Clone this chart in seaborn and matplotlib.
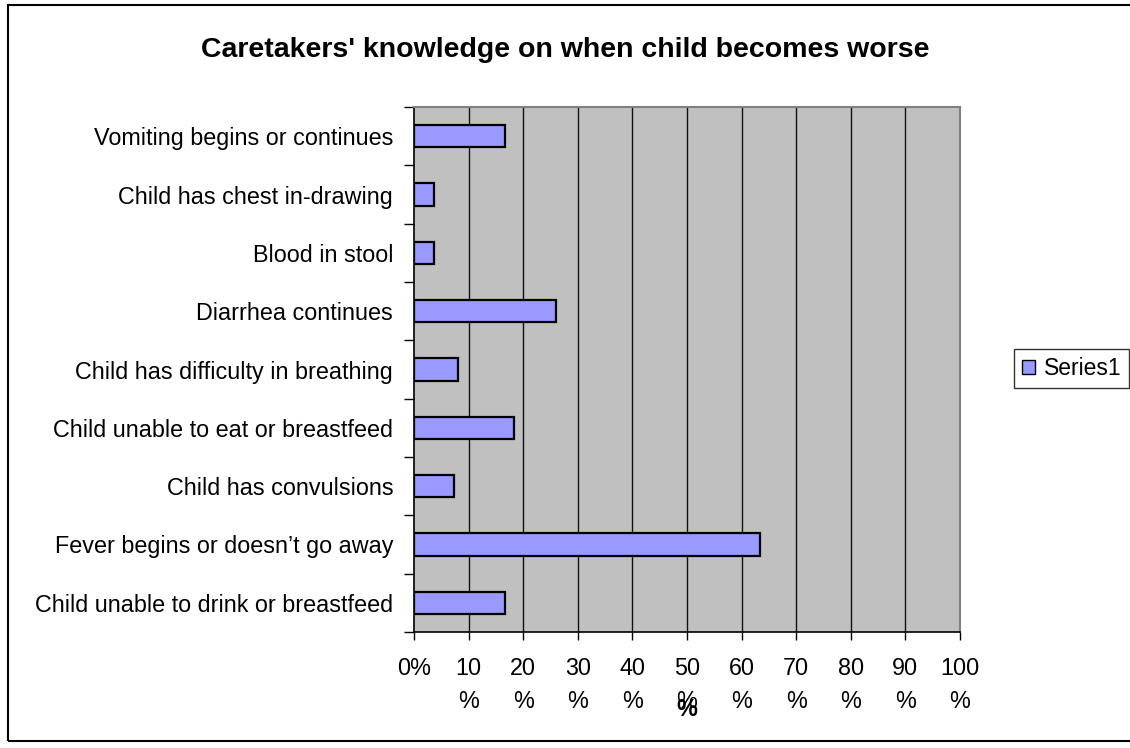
import numpy as np
import pandas as pd
import matplotlib
matplotlib.use("Agg")
import matplotlib.pyplot as plt
import seaborn as sns
from matplotlib.patches import Patch, Rectangle

# data, top to bottom as in the chart
categorias = [
    "Vomiting begins or continues",
    "Child has chest in-drawing",
    "Blood in stool",
    "Diarrhea continues",
    "Child has difficulty in breathing",
    "Child unable to eat or breastfeed",
    "Child has convulsions",
    "Fever begins or doesn\u2019t go away",
    "Child unable to drink or breastfeed",
]
valori = [16.7, 3.7, 3.7, 26.0, 8.1, 18.4, 7.4, 63.3, 16.7]
ticks_x = [0, 10, 20, 30, 40, 50, 60, 70, 80, 90, 100]
etichete_x = ["0%"] + [f"{v}\n%" for v in ticks_x[1:]]

df = pd.DataFrame({"Categorie": categorias, "Procent": valori})

sns.set_style("white")
plt.rcParams["font.family"] = ["Liberation Sans", "DejaVu Sans"]
plt.rcParams["text.color"] = "black"
plt.rcParams["xtick.color"] = "black"
plt.rcParams["ytick.color"] = "black"
plt.rcParams["axes.labelcolor"] = "black"

fig = plt.figure(figsize=(11.3, 7.48), dpi=100)
ax = fig.add_axes([414 / 1130, 1 - 632 / 748, (960 - 414) / 1130, (632 - 107) / 748])

sns.barplot(data=df, y="Categorie", x="Procent", orient="h", ax=ax,
            color="#9999FF", saturation=1, width=0.38,
            edgecolor="black", linewidth=1.6, zorder=3)

ax.set_facecolor("#C0C0C0")
ax.set_xlim(0, 100)
ax.set_ylim(len(categorias) - 0.5, -0.5)
ax.set_xticks(ticks_x)
ax.set_xticklabels(etichete_x, fontsize=16.8, linespacing=1.55, va="top")
ax.tick_params(axis="x", length=6, width=1, color="black", pad=12, direction="out", bottom=True)
for v in ticks_x[1:-1]:
    ax.axvline(v, color="#111111", linewidth=1, zorder=1)

ax.set_yticks(range(len(categorias)))
ax.set_yticklabels(categorias, fontsize=16.8)
ax.tick_params(axis="y", which="major", length=0, pad=15)
ax.set_yticks(np.arange(-0.5, len(categorias), 1), minor=True)
ax.tick_params(axis="y", which="minor", length=7, width=1, color="black", direction="out", left=True)

ax.set_xlabel("%", fontsize=16.8, fontweight="bold", labelpad=-11)
ax.set_ylabel("")

for s in ["left", "bottom"]:
    ax.spines[s].set_color("black")
    ax.spines[s].set_linewidth(1.2)
for s in ["top", "right"]:
    ax.spines[s].set_color("#808080")
    ax.spines[s].set_linewidth(1.5)

fig.text(0.5 * (193 + 938) / 1130, 1 - 50 / 748,
         "Caretakers' knowledge on when child becomes worse",
         ha="center", va="center", fontsize=20.5, fontweight="bold")

leg = fig.legend(handles=[Patch(facecolor="#9999FF", edgecolor="black", linewidth=1)],
                 labels=["Series1"], loc="upper left",
                 bbox_to_anchor=(1014 / 1130, 1 - 349 / 748),
                 fontsize=16.5, frameon=True, fancybox=False,
                 handlelength=0.55, handleheight=0.55, handletextpad=0.4,
                 borderpad=0.35, borderaxespad=0)
leg.get_frame().set_edgecolor("black")
leg.get_frame().set_linewidth(1)

fig.patches.append(Rectangle((8 / 1130, 1 - 741 / 748), 1.2, (741 - 5) / 748,
                             transform=fig.transFigure, fill=False,
                             edgecolor="black", linewidth=1.5))

fig.savefig("out.png", dpi=100)
